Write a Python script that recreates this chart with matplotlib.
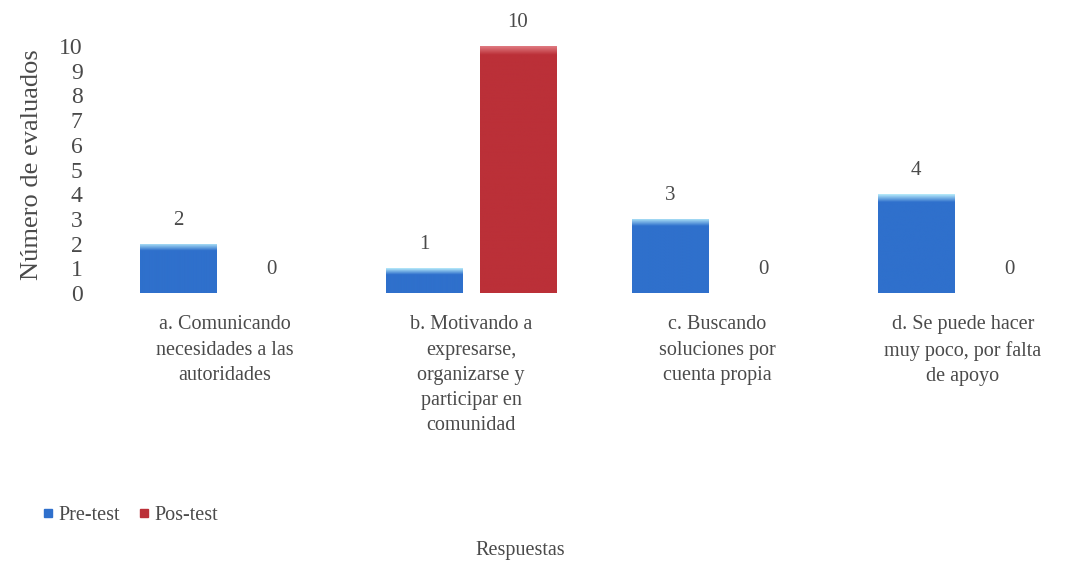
import numpy as np
import matplotlib.pyplot as plt
from matplotlib.colors import LinearSegmentedColormap
from matplotlib.lines import Line2D

plt.rcParams['font.family'] = ['Liberation Serif', 'DejaVu Serif']

categorias = ['a. Comunicando\nnecesidades a las\nautoridades',
              'b. Motivando a\nexpresarse,\norganizarse y\nparticipar en\ncomunidad',
              'c. Buscando\nsoluciones por\ncuenta propia',
              'd. Se puede hacer\nmuy poco, por falta\nde apoyo']
pre_test = [2, 1, 3, 4]
pos_test = [0, 10, 0, 0]
series = ['Pre-test', 'Pos-test']
ticks_y = list(range(0, 11))

azul = '#2f70cc'
rojo = '#bb3038'
gris = '#4a4a4a'

fig = plt.figure(figsize=(10.8, 5.69), dpi=100)
ax = fig.add_axes([102/1080, (569-293)/569, 978/1080, 253/569])

x = np.arange(len(categorias))
ancho = 0.31
desp = 0.19


def barra_degradado(rect, color, brillo):
    # relleno con un brillo fino en el borde superior
    x0, y0 = rect.get_x(), rect.get_y()
    w, h = rect.get_width(), rect.get_height()
    if h <= 0:
        return
    cmap = LinearSegmentedColormap.from_list('g', [brillo, color, color])
    n = 400
    pos = np.linspace(0, h, n)  # distancia desde el borde superior
    fila = np.clip(pos / 0.35, 0, 1) * 0.5 + 0.5 * np.clip(pos / h, 0, 1)
    img = ax.imshow(fila.reshape(-1, 1), cmap=cmap, vmin=0, vmax=1,
                    extent=[x0, x0 + w, y0, y0 + h], aspect='auto', origin='upper',
                    zorder=2)
    img.set_clip_path(rect)


bars_pre = ax.bar(x - desp, pre_test, ancho, color=azul, zorder=1, linewidth=0)
bars_pos = ax.bar(x + desp, pos_test, ancho, color=rojo, zorder=1, linewidth=0)

for b in bars_pre:
    barra_degradado(b, azul, '#b8ecfb')
for b in bars_pos:
    barra_degradado(b, rojo, '#e07a80')

for bars, vals in [(bars_pre, pre_test), (bars_pos, pos_test)]:
    for b, v in zip(bars, vals):
        ax.annotate(str(v), (b.get_x() + b.get_width()/2, v),
                    xytext=(0, 10), textcoords='offset points',
                    ha='center', va='bottom', fontsize=15, color=gris)

ax.set_xlim(-0.5, -0.5 + 978/246)
ax.set_ylim(0, 253/24.7)
ax.set_yticks(ticks_y)
ax.set_yticklabels([str(t) for t in ticks_y], fontsize=17, color=gris)
ax.set_xticks(x)
ax.set_xticklabels(categorias, fontsize=14.5, color=gris, linespacing=1.45, va='top')
ax.tick_params(axis='both', length=0)
ax.tick_params(axis='y', pad=14)
ax.tick_params(axis='x', pad=16)
for s in ax.spines.values():
    s.set_visible(False)

fig.text(32/1080, 1 - 165/569, 'Número de evaluados', rotation=90,
         ha='center', va='center', fontsize=19, color=gris)
fig.text(520/1080, 1 - 551/569, 'Respuestas', ha='center', va='center',
         fontsize=14.5, color=gris)

handles = [Line2D([], [], marker='s', linestyle='', markersize=6, color=azul),
           Line2D([], [], marker='s', linestyle='', markersize=6, color=rojo)]
leg = fig.legend(handles, series, loc='center left', bbox_to_anchor=(22/1080, 1 - 515/569),
                 ncol=2, frameon=False, fontsize=14.5, handletextpad=0.1,
                 columnspacing=0.8, handlelength=0.8)
for t in leg.get_texts():
    t.set_color(gris)

fig.savefig('out.png', dpi=100)
